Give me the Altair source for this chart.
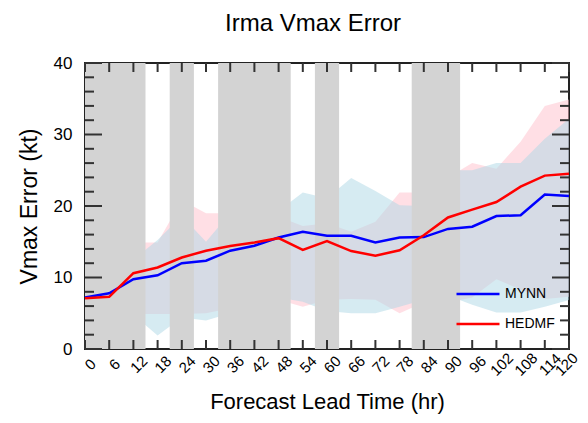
import altair as alt
import pandas as pd

# ---- data ----
hours = list(range(0, 121, 6))
mynn = [7.2, 7.8, 9.75, 10.3, 12.0, 12.35, 13.75, 14.45, 15.6, 16.4, 15.85,
        15.85, 14.9, 15.6, 15.65, 16.8, 17.1, 18.6, 18.7, 21.6, 21.4]
hedmf = [7.1, 7.3, 10.6, 11.4, 12.8, 13.75, 14.4, 14.9, 15.5, 13.85, 15.1,
         13.7, 13.05, 13.8, 15.9, 18.4, 19.5, 20.55, 22.7, 24.25, 24.5]
mynn_hi = [8.5, 9.5, 12.5, 15.25, 18.6, 15.0, 19.0, 19.0, 19.3, 21.9, 21.1,
           23.9, 22.1, 20.1, 20.0, 25.0, 25.0, 26.0, 26.0, 29.4, 32.2]
mynn_lo = [6.0, 6.0, 4.8, 1.9, 4.4, 4.0, 5.0, 6.0, 7.2, 6.6, 5.3,
           5.0, 5.0, 5.9, 6.9, 7.5, 6.2, 5.1, 5.1, 5.9, 6.85]
hedmf_hi = [8.5, 9.5, 14.9, 14.9, 20.8, 19.0, 19.0, 19.0, 18.5, 17.2, 17.6,
            16.4, 17.8, 21.9, 21.9, 24.0, 26.0, 25.2, 29.0, 34.0, 34.9]
hedmf_lo = [6.0, 6.0, 4.9, 4.9, 4.9, 5.0, 5.7, 6.2, 6.9, 5.9, 6.9,
            7.0, 6.9, 5.0, 6.5, 6.5, 7.2, 9.75, 8.3, 7.0, 7.3]
shade_start = [0, 21, 33, 57, 81]
shade_end = [15, 27, 51, 63, 93]
series_names = ["MYNN", "HEDMF"]
series_colors = ["#0000ff", "#ff0000"]
y_major = [0, 10, 20, 30, 40]
y_minor = [v for v in range(2, 40, 2) if v % 10 != 0]

W, H = 484, 286
FONT = "Liberation Sans"

df = pd.DataFrame({"hour": hours, "mynn_lo": mynn_lo, "mynn_hi": mynn_hi,
                   "hedmf_lo": hedmf_lo, "hedmf_hi": hedmf_hi})
lines_df = pd.DataFrame({
    "hour": hours * 2,
    "value": mynn + hedmf,
    "series": ["MYNN"] * len(hours) + ["HEDMF"] * len(hours),
})
shade_df = pd.DataFrame({"start": shade_start, "end": shade_end})
xt_df = pd.DataFrame({"hour": hours})
ymaj_df = pd.DataFrame({"value": y_major})
ymin_df = pd.DataFrame({"value": y_minor})

xs = alt.Scale(domain=[0, 120], nice=False, zero=False)
ys = alt.Scale(domain=[0, 40], nice=False)

xaxis = alt.Axis(values=hours, labelAngle=315, labelAlign="center",
                 labelBaseline="top", labelFontSize=15, labelFont=FONT,
                 labelColor="black", labelPadding=10, ticks=False, tickSize=0,
                 domain=False, grid=False, labelOverlap=False,
                 labelBound=False, labelFlush=False,
                 labelOffset={"condition": {"test": "datum.value === 120",
                                            "value": -8},
                              "value": 0},
                 title="Forecast Lead Time (hr)", titleFont=FONT,
                 titleFontSize=22, titleFontWeight="normal",
                 titleColor="black", titlePadding=13)
yaxis = alt.Axis(values=y_major, labelFontSize=17, labelFont=FONT,
                 labelColor="black", labelPadding=13, ticks=False, tickSize=0,
                 domain=False, grid=False, title="Vmax Error (kt)",
                 titleFont=FONT, titleFontSize=23, titleFontWeight="normal",
                 titleColor="black", titlePadding=12)

X = lambda f: alt.X(f, scale=xs, axis=xaxis)
Y = lambda f: alt.Y(f, scale=ys, axis=yaxis)

pink = alt.Chart(df).mark_area(color="pink", opacity=0.5).encode(
    x=X("hour:Q"), y=Y("hedmf_lo:Q"), y2="hedmf_hi:Q")
lblue = alt.Chart(df).mark_area(color="lightblue", opacity=0.5).encode(
    x=X("hour:Q"), y=Y("mynn_lo:Q"), y2="mynn_hi:Q")
bars = alt.Chart(shade_df).mark_rect(color="#d3d3d3").encode(
    x=X("start:Q"), x2="end:Q", y=alt.value(0), y2=alt.value(H))
lines = alt.Chart(lines_df).mark_line(strokeWidth=2.5).encode(
    x=X("hour:Q"), y=Y("value:Q"),
    color=alt.Color("series:N",
                    scale=alt.Scale(domain=series_names, range=series_colors),
                    sort=series_names,
                    legend=alt.Legend(title=None, orient="none",
                                      legendX=370, legendY=208,
                                      symbolType="stroke", symbolSize=1849,
                                      symbolStrokeWidth=2.5,
                                      labelFontSize=14, labelFont=FONT,
                                      labelColor="black", labelOffset=4,
                                      rowPadding=-12, padding=0)),
)

tick_style = dict(color="#333333", strokeWidth=2)
xt_top = alt.Chart(xt_df).mark_rule(**tick_style).encode(
    x=X("hour:Q"), y=alt.value(0), y2=alt.value(9))
xt_bot = alt.Chart(xt_df).mark_rule(**tick_style).encode(
    x=X("hour:Q"), y=alt.value(H), y2=alt.value(H - 9))
ymaj_l = alt.Chart(ymaj_df).mark_rule(**tick_style).encode(
    y=Y("value:Q"), x=alt.value(0), x2=alt.value(17))
ymaj_r = alt.Chart(ymaj_df).mark_rule(**tick_style).encode(
    y=Y("value:Q"), x=alt.value(W), x2=alt.value(W - 17))
ymin_l = alt.Chart(ymin_df).mark_rule(**tick_style).encode(
    y=Y("value:Q"), x=alt.value(0), x2=alt.value(9))
ymin_r = alt.Chart(ymin_df).mark_rule(**tick_style).encode(
    y=Y("value:Q"), x=alt.value(W), x2=alt.value(W - 9))

chart = alt.layer(
    pink, lblue, bars, lines, xt_top, xt_bot, ymaj_l, ymaj_r, ymin_l, ymin_r
).properties(
    width=W, height=H,
    title=alt.Title("Irma Vmax Error", fontSize=24, fontWeight="normal",
                    font=FONT, color="black", anchor="middle", dx=-14,
                    offset=18),
    autosize=alt.AutoSizeParams(type="none"),
    padding={"left": 77, "top": 55, "right": 11, "bottom": 66},
).configure(
    background="white",
    view=alt.ViewConfig(stroke="#222222", strokeWidth=2),
)

chart.save("out.html", embed_options={"renderer": "svg", "actions": False})
